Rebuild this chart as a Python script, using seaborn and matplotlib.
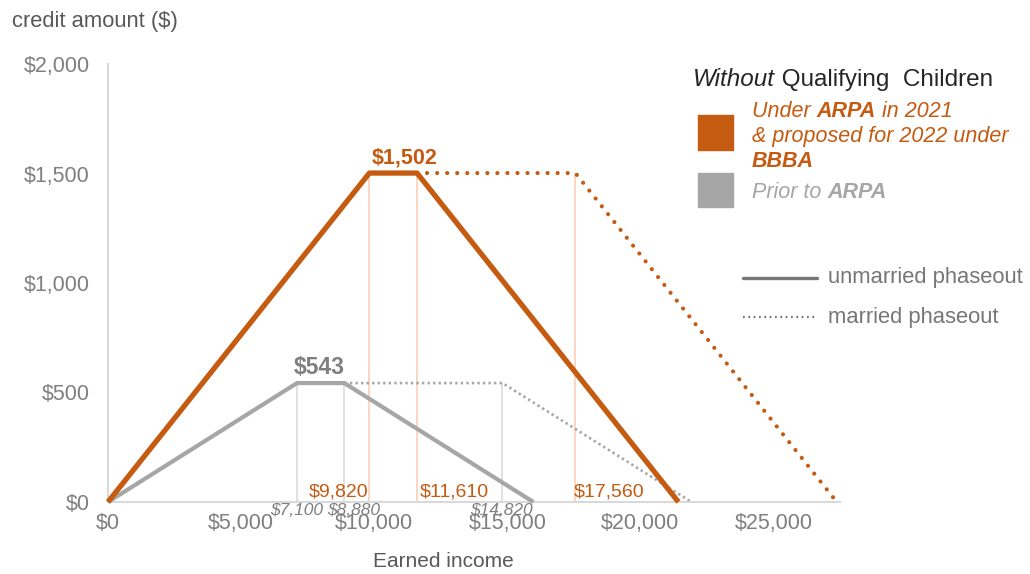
import matplotlib
matplotlib.use("Agg")
import matplotlib.pyplot as plt
import seaborn as sns

# ---------------- data ----------------
arpa_x = [0, 9820, 11610, 21430]
arpa_y = [0, 1502, 1502, 0]
arpa_married_x = [11610, 17560, 27380]
arpa_married_y = [1502, 1502, 0]
prior_x = [0, 7100, 8880, 15980]
prior_y = [0, 543, 543, 0]
prior_married_x = [8880, 14820, 21920]
prior_married_y = [543, 543, 0]

arpa_marks = [9820, 11610, 17560]
arpa_max = 1502
prior_marks = [7100, 8880, 14820]
prior_max = 543

xticks = [0, 5000, 10000, 15000, 20000, 25000]
xtick_labels = ["$0", "$5,000", "$10,000", "$15,000", "$20,000", "$25,000"]
yticks = [0, 500, 1000, 1500, 2000]
ytick_labels = ["$0", "$500", "$1,000", "$1,500", "$2,000"]

ORANGE = "#C55A11"
ORANGE_LIGHT = "#F8CBAD"
GREY = "#A6A6A6"
GREY_LIGHT = "#D9D9D9"
TEXT_GREY = "#7F7F7F"
DARK_GREY = "#595959"

sns.set_theme(style="white")
plt.rcParams["font.family"] = ["Liberation Sans", "DejaVu Sans"]

W, H = 1030, 574
fig = plt.figure(figsize=(W / 100, H / 100), dpi=100)


def px(x, y):
    return x / W, 1 - y / H


ax = fig.add_axes([108 / W, 1 - 502 / H, (840 - 108) / W, (502 - 64) / H])
ax.set_xlim(0, 27500)
ax.set_ylim(0, 2000)

# reference vertical lines
ax.vlines(prior_marks, 0, prior_max, color=GREY_LIGHT, lw=1.1, zorder=1)
ax.vlines(arpa_marks, 0, arpa_max, color=ORANGE_LIGHT, lw=1.1, zorder=1)

# prior lines
sns.lineplot(x=prior_married_x, y=prior_married_y, ax=ax, color=GREY, lw=1.9,
             linestyle=(0, (0.9, 1.2)), zorder=2, clip_on=False)
sns.lineplot(x=prior_x, y=prior_y, ax=ax, color=GREY, lw=3.0,
             solid_capstyle="butt", zorder=3, clip_on=False)
# ARPA lines
sns.lineplot(x=arpa_married_x, y=arpa_married_y, ax=ax, color=ORANGE, lw=3.0,
             linestyle=(0, (0.01, 2.4)), dash_capstyle="round", zorder=4, clip_on=False)
sns.lineplot(x=arpa_x, y=arpa_y, ax=ax, color=ORANGE, lw=3.8,
             solid_capstyle="butt", zorder=5, clip_on=False)

# axes styling
for s in ["top", "right"]:
    ax.spines[s].set_visible(False)
for s in ["left", "bottom"]:
    ax.spines[s].set_color(GREY_LIGHT)
    ax.spines[s].set_linewidth(1.5)
ax.set_xticks(xticks)
ax.set_xticklabels(xtick_labels)
ax.set_yticks(yticks)
ax.set_yticklabels(ytick_labels)
ax.tick_params(axis="x", direction="out", length=5, width=1.2, color=GREY_LIGHT,
               labelcolor=TEXT_GREY, labelsize=15.5, pad=3)
ax.tick_params(axis="y", direction="out", length=5, width=1.2, color=GREY_LIGHT,
               labelcolor=TEXT_GREY, labelsize=15.5, pad=8)
ax.grid(False)

ax.set_xlabel("Earned income", fontsize=15, color=DARK_GREY)
ax.xaxis.set_label_coords((443 - 108) / (840 - 108), -0.115)
ax.set_ylabel("")
fig.text(*px(12, 21), "credit amount ($)", fontsize=15.8, color=DARK_GREY,
         ha="left", va="center")

# value labels
ax.annotate("$1,502", (sum(arpa_x[1:3]) / 2, arpa_max), xytext=(8, 3),
            textcoords="offset points", ha="center", va="bottom",
            fontsize=15.5, fontweight="bold", color=ORANGE)
ax.annotate("$543", (sum(prior_x[1:3]) / 2, prior_max), xytext=(-1, 3),
            textcoords="offset points", ha="center", va="bottom",
            fontsize=16.5, fontweight="bold", color=TEXT_GREY)

ax.annotate("$9,820", (arpa_marks[0], 0), xytext=(-1, 1), textcoords="offset points",
            ha="right", va="bottom", fontsize=14, color=ORANGE)
ax.annotate("$11,610", (arpa_marks[1], 0), xytext=(2, 1), textcoords="offset points",
            ha="left", va="bottom", fontsize=14, color=ORANGE)
ax.annotate("$17,560", (arpa_marks[2], 0), xytext=(-1, 1), textcoords="offset points",
            ha="left", va="bottom", fontsize=14, color=ORANGE)

ax.annotate("$7,100", (prior_marks[0], 0), xytext=(0, -1), textcoords="offset points",
            ha="center", va="top", fontsize=12.5, style="italic", color=TEXT_GREY,
            annotation_clip=False)
ax.annotate("$8,880", (prior_marks[1], 0), xytext=(7, -1), textcoords="offset points",
            ha="center", va="top", fontsize=12.5, style="italic", color=TEXT_GREY,
            annotation_clip=False)
ax.annotate("$14,820", (prior_marks[2], 0), xytext=(-1, -1), textcoords="offset points",
            ha="center", va="top", fontsize=12.5, style="italic", color=TEXT_GREY,
            annotation_clip=False)


# ---------------- legend ----------------
def chain(parts, x, y, size, color):
    """Write parts [(text, style, weight)] one after another."""
    prev = None
    for txt, st, wt in parts:
        if prev is None:
            prev = fig.text(*px(x, y), txt, fontsize=size, color=color, style=st,
                            fontweight=wt, ha="left", va="baseline")
        else:
            prev = ax.annotate(txt, xy=(1, 0), xycoords=prev, xytext=(0, 0),
                               textcoords="offset points", ha="left", va="bottom",
                               fontsize=size, color=color, style=st, fontweight=wt,
                               annotation_clip=False)
    return prev


chain([("Without", "italic", "normal"), (" Qualifying  Children", "normal", "normal")],
      693, 86, 17.5, "#262626")

fig.patches.append(plt.Rectangle(px(698, 150), 35 / W, 35 / H, color=ORANGE,
                                 transform=fig.transFigure, figure=fig))
fig.patches.append(plt.Rectangle(px(698, 207), 35 / W, 34 / H, color=GREY,
                                 transform=fig.transFigure, figure=fig))

chain([("Under ", "italic", "normal"), ("ARPA", "italic", "bold"),
       (" in 2021", "italic", "normal")], 752, 117, 15.5, ORANGE)
chain([("& proposed for 2022 under", "italic", "normal")], 752, 142, 15.5, ORANGE)
chain([("BBBA", "italic", "bold")], 752, 167, 15.5, ORANGE)
chain([("Prior to ", "italic", "normal"), ("ARPA", "italic", "bold")],
      752, 198, 15.5, GREY)

LEG_GREY = "#767676"
fig.add_artist(plt.Line2D([743 / W, 817 / W], [1 - 278 / H, 1 - 278 / H],
                          color=LEG_GREY, lw=2.4, transform=fig.transFigure))
fig.add_artist(plt.Line2D([743 / W, 817 / W], [1 - 317 / H, 1 - 317 / H],
                          color=LEG_GREY, lw=1.6, linestyle=(0, (0.8, 1.6)),
                          transform=fig.transFigure))
fig.text(*px(828, 278), "unmarried phaseout", fontsize=15.8, color=LEG_GREY,
         ha="left", va="center")
fig.text(*px(828, 317), "married phaseout", fontsize=15.8, color=LEG_GREY,
         ha="left", va="center")

fig.savefig("out.png", dpi=100)
